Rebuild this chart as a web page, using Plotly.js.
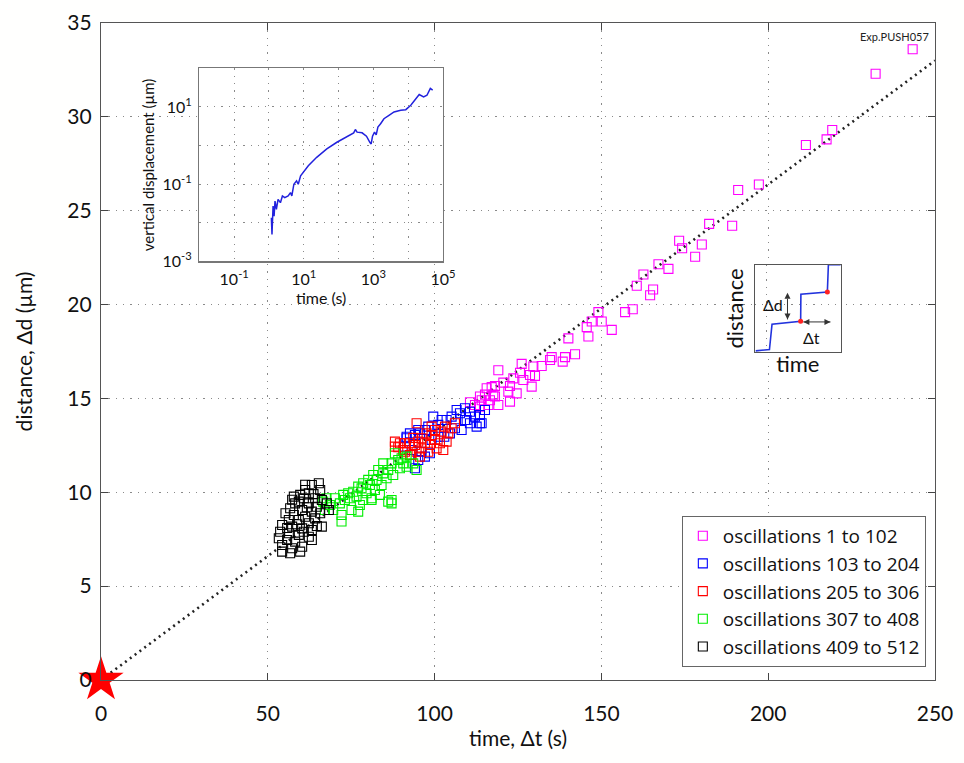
<!DOCTYPE html>
<html>
<head>
<meta charset="utf-8">
<script src="https://cdn.plot.ly/plotly-3.0.1.min.js"></script>
<style>html,body{margin:0;padding:0;background:#fff;}#chart{width:964px;height:763px;}</style>
</head>
<body>
<div id="chart"></div>
<script>
// ---------- main chart data ----------
const seriesNames = ["oscillations 1 to 102","oscillations 103 to 204","oscillations 205 to 306","oscillations 307 to 408","oscillations 409 to 512"];
const seriesColors = ["#ff00ff","#0000ff","#ff0000","#00ee00","#000000"];

const magentaX = [243.3,232.2,219.2,217.5,211.3,197.2,191.0,189.2,182.3,180.1,178.1,174.2,173.3,170.1,167.1,162.6,165.5,164.6,160.6,159.4,157.1,153.1,150.1,149.1,147.1,145.6,146.1,140.1,142.1,139.1,138.4,135.1,134.6,132.1,129.6,128.6,126.1,125.6,130.1,129.1,126.6,123.6,122.6,119.1,120.6,118.1,115.6,124.6,122.1,122.6,119.1,116.6,117.6,113.6,112.1,117.1,118.1,115.1,116.1,113.6,110.6,114.1];
const magentaY = [33.6,32.3,29.3,28.8,28.5,26.4,26.1,24.2,24.3,23.2,22.55,23.0,23.4,21.9,22.15,21.6,20.8,20.5,21.0,19.75,19.6,18.65,19.1,19.6,19.1,18.8,18.3,18.2,17.35,17.2,16.96,17.2,17.05,16.73,16.7,16.25,16.84,16.37,16.2,15.63,15.98,16.07,15.66,16.5,15.84,15.66,15.54,15.27,15.36,14.83,14.65,14.9,15.2,15.1,14.65,15.6,15.1,15.2,14.65,14.56,14.8,14.9];

const blueX = [114.1,112.1,110.6,109.1,107.6,106.6,105.1,103.6,102.1,101.1,99.6,98.1,97.1,95.1,94.1,92.6,91.6,97.1,95.1,96.1,109.1,112.6,110.6,108.1,106.1,104.6,102.9,101.1,99.1,98.6,93.1,91.1,95.6,94.1,91.6,113.6,115.1,109.6,113.6];
const blueY = [13.68,14.03,14.29,14.48,14.21,14.38,14.03,13.85,13.85,13.59,14.03,13.5,13.32,13.32,13.05,13.14,12.88,11.9,11.72,12.16,13.85,13.5,13.68,13.32,13.41,13.14,12.96,12.96,12.79,12.08,12.25,12.43,13.14,11.28,12.96,14.12,14.38,13.85,13.68];

const redX = [103.1,102.1,100.1,99.1,97.6,96.1,100.1,101.6,98.6,97.1,95.1,94.1,92.6,91.1,89.6,88.1,96.1,94.6,104.1,105.1,106.1,102.6,100.6,93.1,91.1,94.6,103.6,98.1,99.1,89.1,90.6,92.6,95.6,88.1,93.6];
const redY = [13.5,13.23,13.32,13.05,13.14,12.88,12.79,12.61,12.52,12.61,12.7,12.52,12.61,12.61,12.61,12.7,12.34,12.16,13.14,13.41,13.68,12.25,12.34,11.99,12.16,13.68,12.7,12.16,13.5,12.4,12.25,11.99,11.9,12.43,12.9];

const greenX = [66.6,68.6,70.1,71.6,72.1,73.1,74.6,75.6,76.6,77.6,78.1,79.6,80.6,81.1,82.1,82.6,84.1,84.6,85.6,86.1,87.1,87.6,89.1,89.6,90.6,91.6,86.1,87.1,83.6,78.6,75.1,69.6,88.1,90.1,84.6,83.1,81.6,80.1,78.6,77.1,74.1,72.6,67.1,67.6,72.1,77.1,87.1,81.1,91.6,93.6,94.6];
const greenY = [9.5,9.32,9.68,9.41,8.79,9.59,9.68,10.03,9.77,9.32,10.21,9.95,10.39,9.68,10.12,10.66,10.39,11.01,10.75,11.19,11.54,10.92,11.72,11.28,11.54,11.36,9.5,9.59,9.86,9.59,9.06,9.06,12.08,11.81,11.54,11.19,10.92,10.66,10.48,10.3,9.95,9.86,9.06,9.68,8.44,8.97,9.41,9.59,11.9,11.54,11.19];

const blackX = [63.2,65.7,62.3,60.8,64.2,66.2,58.2,59.3,62.3,64.7,56.7,60.3,63.2,65.7,55.3,57.8,61.2,64.2,56.3,59.3,62.3,66.2,54.3,57.3,60.3,63.2,53.7,56.3,59.3,62.3,53.3,55.8,58.2,63.2,54.3,57.3,60.3,56.7,59.7,54.3,67.7,68.3,61.2,59.7,65.3,57.8,58.8,61.7,57.3,60.8,63.7,55.8,64.7,61.2];
const blackY = [10.39,10.12,9.95,9.68,9.68,9.59,9.41,9.5,9.41,9.23,9.15,9.06,8.97,8.88,8.88,8.79,8.7,8.61,8.52,8.52,8.35,8.17,8.26,8.17,8.08,7.99,7.9,7.82,7.73,7.63,7.55,7.46,7.37,7.46,7.19,7.02,7.1,6.75,6.84,6.84,9.41,9.06,10.12,9.86,10.48,9.77,8.3,9.2,9.6,7.9,9.9,8.1,8.2,10.4];

const fitX = [0, 250];
const fitY = [0, 33.0];
const originX = [0];
const originY = [0];

const xTicks = [0,50,100,150,200,250];
const yTicks = [0,5,10,15,20,25,30,35];

// ---------- inset 1: log-log displacement history ----------
const histT = [1.17,1.22,1.31,1.40,1.49,1.63,1.82,2.13,2.43,2.84,3.55,4.15,4.54,5.19,6.2,6.93,8.1,9.7,13.5,23.5,45.9,89.5,174,272,304,340,474,634,792,866,946,1081,1208,1350,1614,2015,2812,3928,6120,8550,11900,16700,20800,27800,34700,43400,50700];
const histD = [0.0135,0.0050,0.0272,0.0149,0.0367,0.0223,0.0406,0.0333,0.0497,0.0449,0.0497,0.0607,0.0497,0.1,0.122,0.1,0.165,0.201,0.30,0.497,0.82,1.22,1.75,2.14,2.61,2.23,2.14,1.75,1.22,1.10,1.75,2.23,1.90,3.01,3.67,4.96,6.07,7.41,8.19,8.51,11.05,16.5,21.0,18.2,20.1,30.1,27.2];
const insetXTickVals = [0.1,10,1000,100000];
const insetXTickText = ["10<sup>-1</sup>","10<sup>1</sup>","10<sup>3</sup>","10<sup>5</sup>"];
const insetYTickVals = [0.001,0.1,10];
const insetYTickText = ["10<sup>-3</sup>","10<sup>-1</sup>","10<sup>1</sup>"];

// ---------- inset 2: schematic step curve ----------
const stepX = [0.01,0.17,0.20,0.533,0.536,0.844,0.856,1.0];
const stepY = [0.015,0.03,0.32,0.354,0.662,0.688,1.0,1.0];
const stepDotX = [0.533,0.844];
const stepDotY = [0.354,0.688];
const arrowDX = [0.38,0.38];
const arrowDY = [0.375,0.68];
const arrowDSym = ['arrow-down','arrow-up'];
const arrowTX = [0.565,0.88];
const arrowTY = [0.346,0.346];
const arrowTSym = ['arrow-left','arrow-right'];

const FONT = "Lato, 'Liberation Sans', Arial, sans-serif";
const LEGFONT = "'Open Sans', Lato, sans-serif";
const GRID = '#8a8a8a';
const GDASH = '1.3px,6px';

const seriesX = [magentaX, blueX, redX, greenX, blackX];
const seriesY = [magentaY, blueY, redY, greenY, blackY];

const traces = [];
traces.push({x: fitX, y: fitY, mode: 'lines', type: 'scatter', showlegend: false, hoverinfo: 'skip',
  line: {color: '#222', width: 2.6, dash: '2px,4px'}});
seriesNames.forEach((name, i) => {
  traces.push({x: seriesX[i], y: seriesY[i], name: name, mode: 'markers', type: 'scatter',
    marker: {symbol: 'square-open', size: 9, color: seriesColors[i], line: {width: 1.1, color: seriesColors[i]}}});
});
traces.push({x: originX, y: originY, mode: 'markers', type: 'scatter', showlegend: false, cliponaxis: false,
  marker: {symbol: 'star', size: 34, color: '#ff0000', line: {width: 0}}});
traces.push({x: histT, y: histD, xaxis: 'x2', yaxis: 'y2', mode: 'lines', type: 'scatter', showlegend: false,
  line: {color: '#2222dd', width: 1.5}});
traces.push({x: stepX, y: stepY, xaxis: 'x3', yaxis: 'y3', mode: 'lines', type: 'scatter', showlegend: false,
  line: {color: '#2233dd', width: 1.6}, cliponaxis: false});
traces.push({x: stepDotX, y: stepDotY, xaxis: 'x3', yaxis: 'y3', mode: 'markers', type: 'scatter', showlegend: false,
  marker: {color: '#ff2222', size: 5}});
traces.push({x: arrowDX, y: arrowDY, xaxis: 'x3', yaxis: 'y3', mode: 'lines+markers', type: 'scatter', showlegend: false,
  line: {color: '#333', width: 1}, marker: {symbol: arrowDSym, size: 6, color: '#333'}});
traces.push({x: arrowTX, y: arrowTY, xaxis: 'x3', yaxis: 'y3', mode: 'lines+markers', type: 'scatter', showlegend: false,
  line: {color: '#333', width: 1}, marker: {symbol: arrowTSym, size: 6, color: '#333'}});

const layout = {
  width: 964, height: 763,
  margin: {l: 101, r: 29, t: 23, b: 83},
  paper_bgcolor: '#fffffe', plot_bgcolor: '#ffffff',
  font: {family: FONT, color: '#111'},
  showlegend: true,
  legend: {x: 0.989, xanchor: 'right', y: 0.02, yanchor: 'bottom', bgcolor: '#ffffff',
    bordercolor: '#666', borderwidth: 1, font: {size: 19, family: LEGFONT, color: '#111'}, tracegroupgap: 0},
  xaxis: {domain: [0, 1], range: [0, 250], tickvals: xTicks, ticks: 'inside', ticklen: 7, tickcolor: '#444',
    showline: true, linecolor: '#555', linewidth: 1.2, mirror: 'ticks', showgrid: true, gridcolor: GRID,
    griddash: GDASH, gridwidth: 1.2, zeroline: false, tickfont: {size: 21}, ticklabelstandoff: 15,
    title: {text: 'time, \u0394t (s)', font: {size: 21}, standoff: 6}, automargin: false},
  yaxis: {domain: [0, 1], range: [0, 35], tickvals: yTicks, ticks: 'inside', ticklen: 7, tickcolor: '#444',
    showline: true, linecolor: '#555', linewidth: 1.2, mirror: 'ticks', showgrid: true, gridcolor: GRID,
    griddash: GDASH, gridwidth: 1.2, zeroline: false, tickfont: {size: 21}, ticklabelstandoff: 4,
    title: {text: 'distance, \u0394d (\u00b5m)', font: {size: 21}, standoff: 28}, automargin: false},
  xaxis2: {domain: [0.118, 0.410], anchor: 'y2', type: 'log', range: [-2, 5], tickvals: insetXTickVals,
    ticktext: insetXTickText, ticks: '', showline: true, linecolor: '#777', linewidth: 1.5, mirror: true,
    showgrid: true, gridcolor: GRID, griddash: GDASH, zeroline: false, tickfont: {size: 16},
    minor: {dtick: 1, showgrid: true, gridcolor: GRID, griddash: GDASH, ticks: ''},
    ticklabelstandoff: 3, title: {text: 'time (s)', font: {size: 16}, standoff: 0}, automargin: false},
  yaxis2: {domain: [0.637, 0.931], anchor: 'x2', type: 'log', range: [-3, 2], tickvals: insetYTickVals,
    ticktext: insetYTickText, ticks: '', showline: true, linecolor: '#777', linewidth: 1.5, mirror: true,
    showgrid: true, gridcolor: GRID, griddash: GDASH, zeroline: false, tickfont: {size: 16},
    minor: {dtick: 1, showgrid: true, gridcolor: GRID, griddash: GDASH, ticks: ''},
    ticklabelstandoff: 3, title: {text: 'vertical displacement (\u00b5m)', font: {size: 15}, standoff: 4}, automargin: false},
  xaxis3: {domain: [0.784, 0.887], anchor: 'y3', range: [0, 1], tickvals: [0.14], showticklabels: false, ticks: '',
    showline: true, linecolor: '#555', linewidth: 1.2, mirror: true, showgrid: true, gridcolor: GRID, griddash: GDASH,
    zeroline: false, title: {text: 'time', font: {size: 22}, standoff: 4}, automargin: false, fixedrange: true},
  yaxis3: {domain: [0.499, 0.632], anchor: 'x3', range: [0, 1], tickvals: [0.54], showticklabels: false, ticks: '',
    showline: true, linecolor: '#555', linewidth: 1.2, mirror: true, showgrid: true, gridcolor: GRID, griddash: GDASH,
    zeroline: false, title: {text: 'distance', font: {size: 22}, standoff: 4}, automargin: false, fixedrange: true},
  annotations: [
    {xref: 'paper', yref: 'paper', x: 0.995, y: 0.993, xanchor: 'right', yanchor: 'top', showarrow: false,
      text: 'Exp.PUSH057', font: {size: 11, color: '#222'}},
    {xref: 'x3', yref: 'y3', x: 0.21, y: 0.54, showarrow: false, text: '\u0394d', font: {size: 16, color: '#111'}},
    {xref: 'x3', yref: 'y3', x: 0.66, y: 0.17, showarrow: false, text: '\u0394t', font: {size: 16, color: '#111'}}
  ]
};

Plotly.newPlot('chart', traces, layout, {displayModeBar: false, staticPlot: true});
</script>
</body>
</html>
